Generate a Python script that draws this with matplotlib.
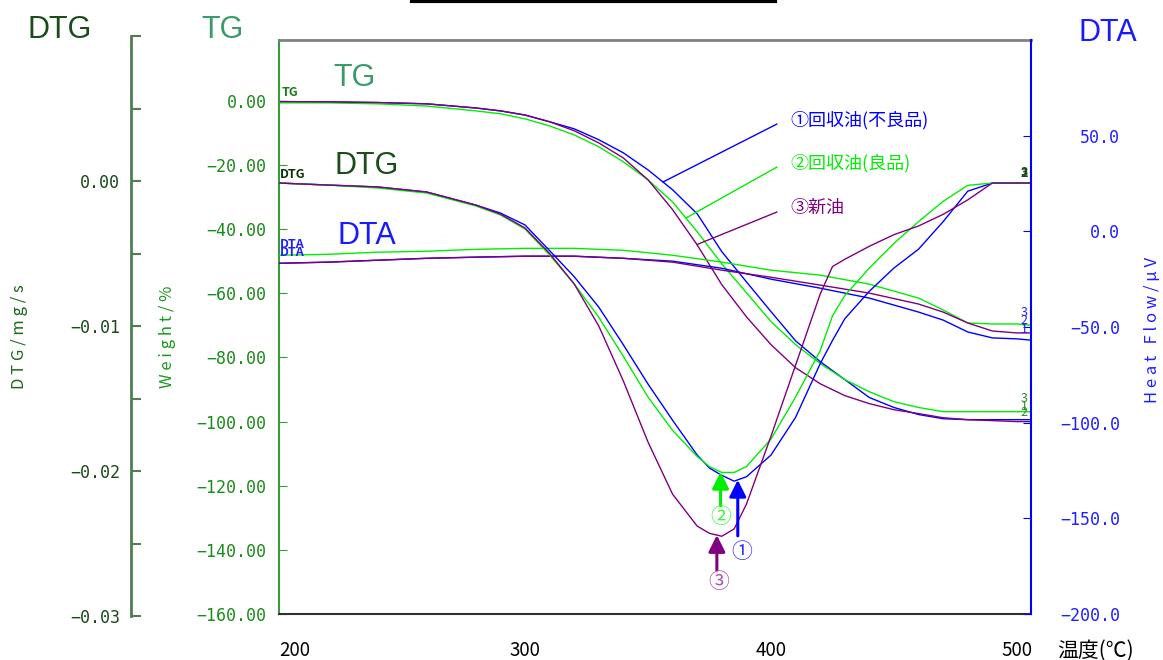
import numpy as np
import matplotlib
matplotlib.use('Agg')
import matplotlib.pyplot as plt
from matplotlib.lines import Line2D

plt.rcParams['font.family'] = ['Noto Sans CJK JP', 'DejaVu Sans']

W, H = 1163, 660

# ---- data ----
tg_temp = [200, 220, 240, 260, 280, 290, 300, 310, 320, 330, 340, 350, 360, 370,
           380, 390, 400, 410, 420, 430, 440, 450, 460, 470, 480, 490, 500, 505]
tg_1 = [-0.2, -0.3, -0.5, -0.9, -2.2, -3.1, -4.4, -6.5, -8.7, -12.1, -16.2, -21.5, -27.7, -35.2,
        -47.0, -56.4, -65.7, -74.8, -81.3, -86.9, -92.5, -95.6, -97.8, -99.1, -99.4, -99.4, -99.4, -99.4]
tg_2 = [-0.6, -0.6, -0.9, -1.6, -3.1, -4.0, -5.6, -7.8, -10.6, -14.3, -19.0, -24.6, -31.5, -40.8,
        -50.8, -59.8, -68.8, -76.0, -81.9, -86.9, -90.7, -93.8, -95.6, -96.9, -96.9, -96.9, -96.9, -96.9]
tg_3 = [-0.2, -0.3, -0.5, -0.9, -2.2, -3.1, -4.4, -6.5, -9.3, -13.1, -17.8, -24.6, -33.9, -44.9,
        -57.3, -67.3, -76.0, -83.2, -88.2, -91.9, -94.4, -96.3, -97.5, -98.8, -99.4, -99.7, -100.0, -100.0]

dtg_temp = [200, 220, 240, 260, 280, 290, 300, 310, 320, 330, 340, 350, 360, 370, 375,
            380, 385, 390, 400, 410, 420, 425, 430, 440, 450, 460, 470, 480, 490, 500, 505]
dtg_1 = [-0.00014, -0.00028, -0.00041, -0.00076, -0.00166, -0.00221, -0.00303, -0.0048, -0.0066,
         -0.0087, -0.0113, -0.0140, -0.0165, -0.0189, -0.0198, -0.0203, -0.0207, -0.0204,
         -0.0189, -0.0163, -0.0126, -0.0110, -0.0095, -0.0076, -0.0060, -0.0047, -0.0028, -0.0007,
         -0.00014, -0.00014, -0.00014]
dtg_2 = [-0.00014, -0.00028, -0.00048, -0.00083, -0.00172, -0.00234, -0.00331, -0.0051, -0.0071,
         -0.0094, -0.0121, -0.0149, -0.0172, -0.0190, -0.0197, -0.0201, -0.0201, -0.0197,
         -0.0178, -0.0149, -0.0117, -0.0093, -0.0079, -0.0060, -0.0043, -0.0028, -0.0014, -0.0003,
         -0.00014, -0.00014, -0.00014]
dtg_3 = [-0.00014, -0.00028, -0.00041, -0.00076, -0.00166, -0.00228, -0.00324, -0.0050, -0.0071,
         -0.0100, -0.0138, -0.0180, -0.0216, -0.0238, -0.0243, -0.0245, -0.0240, -0.0223,
         -0.0176, -0.0127, -0.0078, -0.0059, -0.0054, -0.0045, -0.0037, -0.0031, -0.0023, -0.0013,
         -0.00014, -0.00014, -0.00014]

dta_temp = [200, 220, 240, 260, 280, 300, 320, 340, 360, 380, 400, 420, 440, 460, 470, 480, 490, 500, 505]
dta_1 = [-16.7, -16.1, -15.1, -14.1, -13.5, -13.0, -13.0, -14.1, -15.6, -19.3, -25.0, -29.7, -34.9,
         -42.2, -46.4, -52.6, -55.7, -56.2, -56.8]
dta_2 = [-12.5, -12.0, -10.9, -10.4, -9.4, -8.9, -8.9, -9.9, -12.5, -16.1, -20.3, -22.9, -27.6,
         -34.9, -41.1, -47.9, -48.4, -48.4, -49.0]
dta_3 = [-16.7, -16.1, -15.1, -14.1, -13.5, -13.0, -13.0, -14.1, -16.1, -20.3, -24.0, -28.1, -32.3,
         -38.0, -42.2, -47.9, -52.1, -53.1, -53.1]

names = ['①回収油(不良品)', '②回収油(良品)', '③新油']
marks = ['①', '②', '③']
colors = ['#0000ff', '#00ee00', '#800080']
mark_colors = ['#3333ff', '#33ff33', '#b050b0']
peak_temp = [386.5, 379.5, 378.0]      # DTG peaks marked with arrows
leader_temp = [356.1, 365.4, 369.9]    # where legend leaders touch the TG curves

x_ticks = [200, 300, 400, 500]
tg_ticks = [0, -20, -40, -60, -80, -100, -120, -140, -160]
dta_ticks = [50, 0, -50, -100, -150, -200]
dtg_ticks = [0.01, 0.005, 0.0, -0.005, -0.01, -0.015, -0.02, -0.025, -0.03]

fig = plt.figure(figsize=(W / 100, H / 100), dpi=100)

left, right = 279, 1031
ax = fig.add_axes([left / W, 46 / H, (right - left) / W, 574 / H])
ax.set_xlim(200, 505.7)
ax.set_ylim(-160, 19)
ax_dta = ax.twinx()
ax_dta.set_ylim(-200, 100)
ax_dtg = fig.add_axes([left / W, 44 / H, (right - left) / W, 580 / H])
ax_dtg.set_xlim(200, 505.7)
ax_dtg.set_ylim(-0.03, 0.01)
ax_dtg.patch.set_visible(False)

for tg, c in zip([tg_1, tg_2, tg_3], colors):
    ax.plot(tg_temp, tg, color=c, lw=1.0)
for dta, c in zip([dta_1, dta_2, dta_3], colors):
    ax_dta.plot(dta_temp, dta, color=c, lw=1.0)
for dtg, c in zip([dtg_1, dtg_2, dtg_3], colors):
    ax_dtg.plot(dtg_temp, dtg, color=c, lw=1.0)

# spines
ax.spines['left'].set_color('#3a9a3a')
ax.spines['left'].set_linewidth(1.5)
ax.spines['top'].set_color('#808080')
ax.spines['top'].set_linewidth(2)
ax.spines['bottom'].set_color('#303030')
ax.spines['bottom'].set_linewidth(1.5)
ax.spines['right'].set_visible(False)
for s in ['left', 'top', 'bottom']:
    ax_dta.spines[s].set_visible(False)
ax_dta.spines['right'].set_color('#0000ff')
ax_dta.spines['right'].set_linewidth(1.5)
for s in ['right', 'top', 'bottom']:
    ax_dtg.spines[s].set_visible(False)
ax_dtg.spines['left'].set_position(('axes', (131 - left) / (right - left)))
ax_dtg.spines['left'].set_color('#4f7f4f')
ax_dtg.spines['left'].set_linewidth(2)

mono = 'DejaVu Sans Mono'

# ticks
ax.set_xticks(x_ticks)
ax.set_xticklabels([str(v) for v in x_ticks])
ax.get_xticklabels()[0].set_horizontalalignment('left')
ax.tick_params(axis='x', length=0, pad=19, labelsize=13.5, labelcolor='black')
ax.set_yticks(tg_ticks)
ax.set_yticklabels([f'{v:.2f}'.replace('-', '\u2212') for v in tg_ticks], family=mono)
ax.tick_params(axis='y', direction='in', length=6, color='#3a9a3a', labelcolor='#1a8c1a',
               labelsize=12, pad=9)

ax_dta.set_yticks(dta_ticks)
ax_dta.set_yticklabels([f'{v:.1f}'.replace('-', '\u2212') for v in dta_ticks], family=mono)
ax_dta.tick_params(axis='y', direction='in', length=6, color='#0000ff', labelcolor='#2020ff',
                   labelsize=12, pad=64)
for t in ax_dta.get_yticklabels():
    t.set_horizontalalignment('right')

ax_dtg.set_xticks([])
ax_dtg.set_yticks(dtg_ticks)
dtg_labels = []
for v in dtg_ticks:
    if v < 0.005 and abs(v * 100 - round(v * 100)) < 1e-6:
        dtg_labels.append(f'{v:.2f}'.replace('-', '\u2212'))
    else:
        dtg_labels.append('')
ax_dtg.set_yticklabels(dtg_labels, family=mono)
ax_dtg.tick_params(axis='y', direction='in', length=7, width=1.5, color='#4f7f4f',
                   labelcolor='#1a4a1a', labelsize=12, pad=8)


def fx(px):
    return px / W


def fy(py):
    return 1 - py / H


# big headings
fig.text(fx(60), fy(30), 'DTG', ha='center', va='center', fontsize=22, color='#1a4d1a', family='Liberation Sans')
fig.text(fx(222), fy(30), 'TG', ha='center', va='center', fontsize=22, color='#3a9a6a', family='Liberation Sans')
fig.text(fx(1108), fy(33), 'DTA', ha='center', va='center', fontsize=22, color='#1a1aff', family='Liberation Sans')
fig.text(fx(355), fy(78), 'TG', ha='center', va='center', fontsize=22, color='#3a9a6a', family='Liberation Sans')
fig.text(fx(367), fy(166), 'DTG', ha='center', va='center', fontsize=22, color='#1a4d1a', family='Liberation Sans')
fig.text(fx(367), fy(236), 'DTA', ha='center', va='center', fontsize=22, color='#1a1aff', family='Liberation Sans')

# axis titles
fig.text(fx(20), fy(337), 'D T G / m g / s', rotation=90, ha='center', va='center', fontsize=12, color='#1a6a1a')
fig.text(fx(168), fy(337), 'W e i g h t / %', rotation=90, ha='center', va='center', fontsize=12, color='#1a9a1a')
fig.text(fx(1152), fy(330), 'H e a t   F l o w / μ V', rotation=90, ha='center', va='center', fontsize=12, color='#2020ff')
fig.text(fx(1095), fy(651), '温度(℃)', ha='center', va='center', fontsize=15, color='black')

# small curve tags at start and end
fig.text(fx(282), fy(93), 'TG', ha='left', va='center', fontsize=9, fontweight='bold', color='#1a7a1a')
fig.text(fx(280), fy(174), 'DTG', ha='left', va='center', fontsize=9, fontweight='bold', color='#0a300a')
fig.text(fx(280), fy(245), 'DTA', ha='left', va='center', fontsize=9, fontweight='bold', color='#2020ff')
fig.text(fx(280), fy(253), 'DTA', ha='left', va='center', fontsize=9, fontweight='bold', color='#2020ff')
for py, s in [(172, '3'), (173, '2')]:
    fig.text(fx(1024), fy(py), s, ha='center', va='center', fontsize=9, fontweight='bold', color='#1a4a1a')
for py, s in [(313, '3'), (321, '2'), (329, '1')]:
    fig.text(fx(1024), fy(py), s, ha='center', va='center', fontsize=9, color='#2020ff')
for py, s in [(399, '3'), (407, '1'), (413, '2')]:
    fig.text(fx(1024), fy(py), s, ha='center', va='center', fontsize=9, color='#2a8a2a')

# legend with leader lines to the TG curves
text_y = [120, 163, 208]
for name, c, lt, tg, ty in zip(names, colors, leader_temp, [tg_1, tg_2, tg_3], text_y):
    fig.text(fx(790), fy(ty), name, ha='left', va='center', fontsize=13, color=c)
    ax.annotate('', xy=(lt, np.interp(lt, tg_temp, tg)), xycoords='data',
                xytext=(777, H - ty - 4), textcoords='figure pixels',
                arrowprops=dict(arrowstyle='-', color=c, lw=1.0, shrinkA=0, shrinkB=0))

# arrows at DTG peaks
tails = [56, 34, 35]
label_off = [(4, -72), (0, -45), (2, -47)]
for m, c, mc, pt, dtg, tl, lo in zip(marks, colors, mark_colors, peak_temp,
                                     [dtg_1, dtg_2, dtg_3], tails, label_off):
    y = np.interp(pt, dtg_temp, dtg)
    ax_dtg.annotate('', xy=(pt, y), xytext=(0, -tl), textcoords='offset pixels',
                    arrowprops=dict(arrowstyle='-|>,head_length=0.5,head_width=0.25', color=c,
                                    lw=2.2, mutation_scale=20, shrinkA=0, shrinkB=0))
    ax_dtg.annotate(m, xy=(pt, y), xytext=lo, textcoords='offset pixels',
                    ha='center', va='center', fontsize=15, color=mc)

# top bar
fig.add_artist(Line2D([fx(412), fx(775)], [fy(1), fy(1)], color='black', lw=3, transform=fig.transFigure))

fig.savefig('out.png', dpi=100)
